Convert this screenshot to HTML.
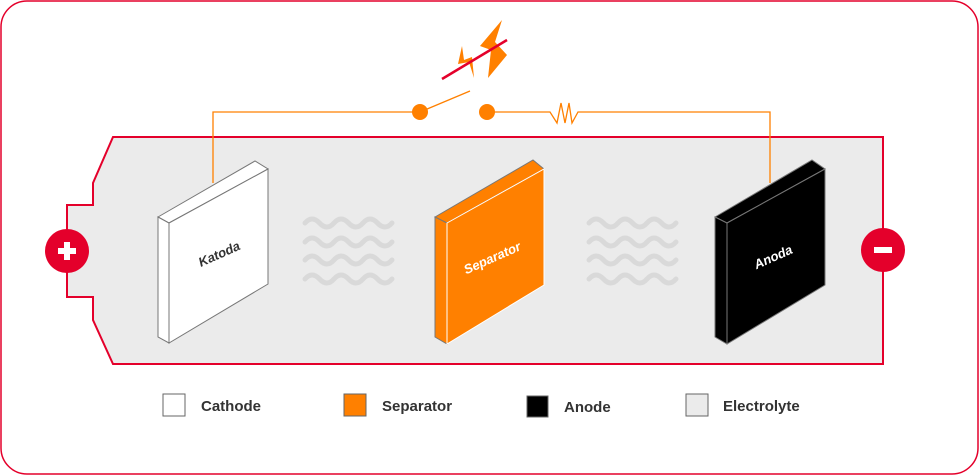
<!DOCTYPE html>
<html><head><meta charset="utf-8"><style>
html,body{margin:0;padding:0;background:#fff;width:979px;height:475px;overflow:hidden}
svg{display:block}
text{font-family:"Liberation Sans",sans-serif;font-weight:bold}
</style></head><body>
<svg width="979" height="475" viewBox="0 0 979 475" xmlns="http://www.w3.org/2000/svg">
<rect x="1" y="1" width="977" height="473" rx="26" fill="#fff" stroke="#e4002b" stroke-width="1.5"/>
<polygon points="113,137 883,137 883,364 113,364 93,320 93,297 67,297 67,205 93,205 93,183" fill="#ebebeb" stroke="#e4002b" stroke-width="2"/>
<g fill="none" stroke="#ff8000" stroke-width="1.3">
<polyline points="213,183 213,112 420,112"/>
<line x1="420" y1="112" x2="470" y2="91"/>
<polyline points="487,112 550,112 557,123 561,103 565,123 569,103 572,123 578,112 770,112 770,183"/>
</g>
<circle cx="420" cy="112" r="8" fill="#ff8000"/>
<circle cx="487" cy="112" r="8" fill="#ff8000"/>
<polygon points="502,20 480,46 491,50 488,78 507,55 495,42" fill="#ff8000"/>
<polygon points="462,46 458,64 469,62 474,78 472,57 464,60" fill="#ff8000"/>
<line x1="442" y1="79" x2="507" y2="40" stroke="#e4002b" stroke-width="2.5"/>
<circle cx="67" cy="251" r="22" fill="#e4002b"/>
<rect x="58" y="248" width="18" height="6" fill="#fff"/><rect x="64" y="242" width="6" height="18" fill="#fff"/>
<circle cx="883" cy="250" r="22" fill="#e4002b"/>
<rect x="874" y="247" width="18" height="6" fill="#fff"/>
<g fill="none" stroke="#d9d9d9" stroke-width="5" stroke-linecap="round">
<path id="w" d="M305,223 q7,-8 14.5,0 t14.5,0 t14.5,0 t14.5,0 t14.5,0 t14.5,0"/>
<use href="#w" y="19"/><use href="#w" y="37"/><use href="#w" y="56"/>
<use href="#w" x="284"/><use href="#w" x="284" y="19"/><use href="#w" x="284" y="37"/><use href="#w" x="284" y="56"/>
</g>
<g stroke="#777" stroke-width="1">
<polygon points="158,217 255,161 268,169 169,223" fill="#fff"/>
<polygon points="158,217 169,223 169,343 158,337" fill="#fff"/>
<polygon points="169,223 268,169 268,284 169,343" fill="#fff"/>
<polygon points="435,217 533,160 544,169 447,223" fill="#ff8000"/>
<polygon points="435,217 447,223 447,344 435,337" fill="#ff8000"/>
<polygon points="447,223 544,169 544,285 447,344" fill="#ff8000" stroke="#fff"/>
<polygon points="715,217 812,160 825,169 727,223" fill="#000"/>
<polygon points="715,217 727,223 727,344 715,337" fill="#000"/>
<polygon points="727,223 825,169 825,285 727,344" fill="#000"/>
</g>
<g transform="translate(221,258) rotate(-24)"><text x="0" y="0" font-size="13" fill="#333" text-anchor="middle" font-style="italic">Katoda</text></g>
<g transform="translate(494,262) rotate(-24)"><text x="0" y="0" font-size="13" fill="#fff" text-anchor="middle" font-style="italic">Separator</text></g>
<g transform="translate(775,261) rotate(-24)"><text x="0" y="0" font-size="13" fill="#fff" text-anchor="middle" font-style="italic">Anoda</text></g>
<g stroke="#666" stroke-width="1">
<rect x="163" y="394" width="22" height="22" fill="#fff"/>
<rect x="344" y="394" width="22" height="22" fill="#ff8000"/>
<rect x="527" y="396" width="21" height="21" fill="#000"/>
<rect x="686" y="394" width="22" height="22" fill="#ebebeb"/>
</g>
<g font-size="15" fill="#333">
<text x="201" y="411">Cathode</text>
<text x="382" y="411">Separator</text>
<text x="564" y="412">Anode</text>
<text x="723" y="411">Electrolyte</text>
</g>
</svg>
</body></html>
